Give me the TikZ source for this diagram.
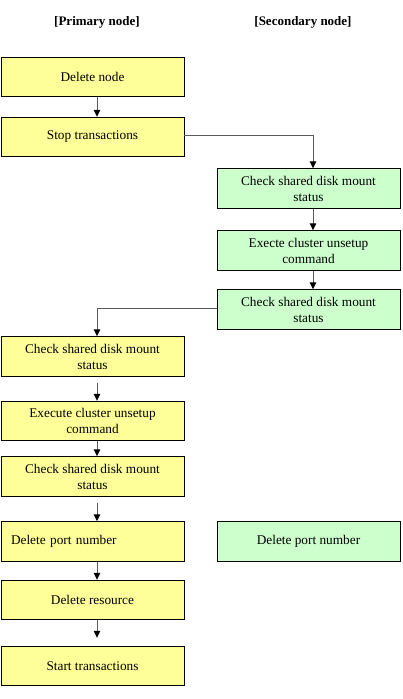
\documentclass[tikz,border=0pt]{standalone}
\usepackage{fontspec}
\setmainfont{Liberation Serif}
\usetikzlibrary{arrows.meta}
\definecolor{pyellow}{HTML}{FFFF99}
\definecolor{sgreen}{HTML}{CCFFCC}
\definecolor{lin}{RGB}{90,90,90}
\tikzset{
  box/.style={draw=black, line width=0.9pt, minimum width=183pt, minimum height=39.5pt,
    inner sep=0pt, align=center, font=\fontsize{13.3}{16}\selectfont},
  ybox/.style={box, fill=pyellow},
  gbox/.style={box, fill=sgreen},
  hdr/.style={font=\fontsize{13}{15}\selectfont\bfseries},
  conn/.style={draw=lin, line width=1pt, -{Triangle[width=6.5pt,length=7pt,color=black,fill=black]}},
}
\begin{document}
\begin{tikzpicture}[x=1pt,y=-1pt]
\useasboundingbox (0,0) rectangle (403,699);
\node[hdr] (h1) at (97,22) {[Primary node]};
\node[hdr] (h2) at (303,22) {[Secondary node]};

\node[ybox] (dn) at (92.5,77) {Delete node};
\node[ybox] (st) at (92.5,137) {Stop transactions};
\node[gbox] (g1) at (308.5,188.5) {Check shared disk mount\\status};
\node[gbox] (g2) at (308.5,250.5) {Execte cluster unsetup\\command};
\node[gbox] (g3) at (308.5,309.5) {Check shared disk mount\\status};
\node[ybox] (c1) at (92.5,356.5) {Check shared disk mount\\status};
\node[ybox] (ex) at (92.5,421) {Execute cluster unsetup\\command};
\node[ybox] (c2) at (92.5,476.5) {Check shared disk mount\\status};
\node[ybox, align=left, text width=163pt, inner xsep=10pt] (dp) at (92.5,541.5) {Delete port number};
\node[gbox] (g4) at (308.5,541.5) {Delete port number};
\node[ybox] (dr) at (92.5,600) {Delete resource};
\node[ybox] (sx) at (92.5,666) {Start transactions};

\draw[conn] ([xshift=4.5pt]dn.south) -- ([xshift=4.5pt]st.north);
\draw[conn] ([yshift=2pt]st.east) -| ([xshift=4.5pt]g1.north);
\draw[conn] ([xshift=4.5pt]g1.south) -- ([xshift=4.5pt]g2.north);
\draw[conn] ([xshift=4.5pt]g2.south) -- ([xshift=4.5pt]g3.north);
\draw[conn] ([yshift=1.5pt]g3.west) -| ([xshift=4.5pt]c1.north);
\draw[conn, shorten <=6pt] ([xshift=4.5pt]c1.south) -- ([xshift=4.5pt]ex.north);
\draw[conn] ([xshift=4.5pt]ex.south) -- ([xshift=4.5pt]c2.north);
\draw[conn, shorten <=6pt] ([xshift=4.5pt]c2.south) -- ([xshift=4.5pt]dp.north);
\draw[conn] ([xshift=4.5pt]dp.south) -- ([xshift=4.5pt]dr.north);
\draw[conn, shorten >=8pt] ([xshift=4.5pt]dr.south) -- ([xshift=4.5pt]sx.north);
\end{tikzpicture}
\end{document}
